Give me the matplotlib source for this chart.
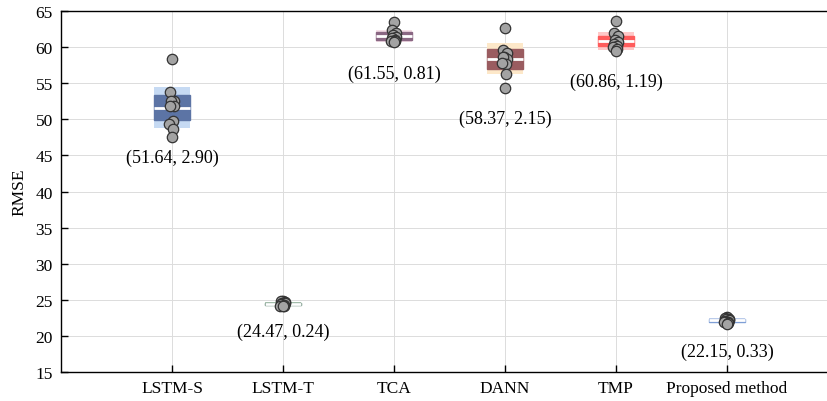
import numpy as np
import matplotlib
matplotlib.use("Agg")
import matplotlib.pyplot as plt
from matplotlib.patches import Rectangle

plt.rcParams['font.family'] = ['Liberation Serif', 'DejaVu Serif']
plt.rcParams['font.size'] = 12.5

methods = ["LSTM-S", "LSTM-T", "TCA", "DANN", "TMP", "Proposed method"]

# RMSE of the repeated runs for each method
rmse_lstm_s = [58.3, 53.8, 52.5, 52.6, 51.9, 51.8, 49.8, 49.4, 48.6, 47.6]
rmse_lstm_t = [24.9, 24.8, 24.7, 24.6, 24.5, 24.4, 24.3, 24.2, 24.1, 24.2]
rmse_tca = [63.5, 62.4, 62.0, 61.7, 61.4, 61.2, 61.0, 60.9, 60.8, 60.7]
rmse_dann = [62.6, 59.6, 59.2, 58.7, 58.4, 58.6, 57.6, 57.8, 56.3, 54.3]
rmse_tmp = [63.6, 62.0, 61.5, 61.0, 60.7, 60.4, 60.2, 60.0, 59.7, 59.5]
rmse_proposed = [22.6, 22.5, 22.4, 22.3, 22.2, 22.1, 22.0, 21.9, 21.8, 21.7]
runs = [rmse_lstm_s, rmse_lstm_t, rmse_tca, rmse_dann, rmse_tmp, rmse_proposed]

# reported mean and standard deviation
means = [51.64, 24.47, 61.55, 58.37, 60.86, 22.15]
sds = [2.90, 0.24, 0.81, 2.15, 1.19, 0.33]

# y position of the "(mean, sd)" label under each group
label_y = [44.7, 20.7, 56.4, 50.2, 55.3, 17.8]

sd_colors = ["#c6daf3", "#b9cfbe", "#f6e2ea", "#fde8c9", "#ffc8c8", "#c9d6ef"]
ci_colors = ["#5c74a5", "#44705a", "#8a6783", "#9a5c60", "#ff5c5c", "#7f9fd6"]

jitter = [0.0, -0.02, 0.015, -0.01, 0.02, -0.015, 0.01, -0.025, 0.005, 0.0]

fig = plt.figure(figsize=(8.27, 4.02), dpi=100)
ax = fig.add_axes([0.0738, 0.072, 0.9395, 0.898])

w = 0.33
for i, vals in enumerate(runs):
    x = i + 1
    n = len(vals)
    m, s = means[i], sds[i]
    ci = 1.96 * s / np.sqrt(n)
    ax.add_patch(Rectangle((x - w / 2, m - s), w, 2 * s, facecolor=sd_colors[i],
                           edgecolor='none', zorder=2))
    ax.add_patch(Rectangle((x - w / 2, m - ci), w, 2 * ci, facecolor=ci_colors[i],
                           edgecolor=ci_colors[i], lw=1.0, zorder=3))
    ax.plot([x - w / 2, x + w / 2], [m, m], color='white', lw=2.0,
            solid_capstyle='butt', zorder=4)
    xs = [x + j for j in jitter[:n]]
    ax.plot(xs, vals, 'o', ms=7.5, mfc='#a3a3a3', mec='#333333', mew=0.9, zorder=5)
    ax.text(x, label_y[i], "(%.2f, %.2f)" % (m, s), ha='center', va='center',
            fontsize=13, zorder=6)

ax.set_xlim(0, 7)
ax.set_ylim(15, 65)
ax.set_xticks(range(1, 7))
ax.set_xticklabels(methods)
ax.set_yticks(range(15, 66, 5))
ax.set_ylabel("RMSE", labelpad=6)
ax.grid(True, color='#dcdcdc', lw=0.7)
ax.set_axisbelow(True)
ax.tick_params(direction='in', length=5, width=1, pad=6)
for sp in ax.spines.values():
    sp.set_linewidth(1.0)

fig.savefig("out.png", dpi=100)
